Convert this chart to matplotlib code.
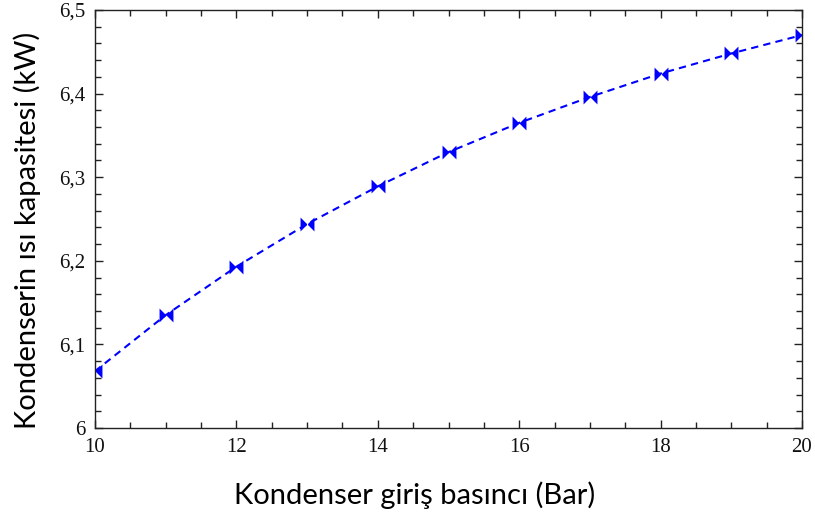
import matplotlib.pyplot as plt
import numpy as np
from matplotlib.ticker import MultipleLocator, FuncFormatter

# inlet pressure (bar) vs condenser heat capacity (kW)
pressure = [10, 11, 12, 13, 14, 15, 16, 17, 18, 19, 20]
capacity = [6.068, 6.135, 6.193, 6.244, 6.289, 6.330, 6.365, 6.396, 6.424, 6.448, 6.470]

# bowtie marker
bowtie = [(-1, 1), (1, -1), (1, 1), (-1, -1), (-1, 1)]

fig = plt.figure(figsize=(8.15, 5.17), dpi=100)
ax = fig.add_axes([95/815, 1 - 428/517, 707/815, 418/517])

ax.plot(pressure, capacity, color='#0000ff', linestyle=(0, (3.5, 2.5)), linewidth=1.5,
        marker=bowtie, markersize=10, markeredgewidth=0)

ax.set_xlim(10, 20)
ax.set_ylim(6.0, 6.5)
ax.xaxis.set_major_locator(MultipleLocator(2))
ax.xaxis.set_minor_locator(MultipleLocator(0.5))
ax.yaxis.set_major_locator(MultipleLocator(0.1))
ax.yaxis.set_minor_locator(MultipleLocator(0.02))

def comma(v, pos):
    s = f"{v:.1f}".rstrip('0').rstrip('.')
    return s.replace('.', ',')

ax.yaxis.set_major_formatter(FuncFormatter(comma))
ax.tick_params(which='both', direction='in', top=True, right=True, width=1, colors='#222222')
ax.tick_params(which='major', length=6, pad=7, labelsize=15, labelfontfamily='Liberation Serif',
               labelcolor='#111111')
ax.tick_params(which='minor', length=4)
for sp in ax.spines.values():
    sp.set_linewidth(1)
    sp.set_color('#222222')

ax.set_xlabel('Kondenser giriş basıncı (Bar)', fontfamily='Lato', fontsize=21)
ax.set_ylabel('Kondenserin ısı kapasitesi (kW)', fontfamily='Lato', fontsize=21)
ax.xaxis.set_label_coords((415 - 95) / 707, -(495 - 428) / 418)
ax.yaxis.set_label_coords(-(95 - 27) / 707, (428 - 230) / 418)
ax.xaxis.label.set_va('center')
ax.yaxis.label.set_va('center')

fig.savefig('out.png', dpi=100)
